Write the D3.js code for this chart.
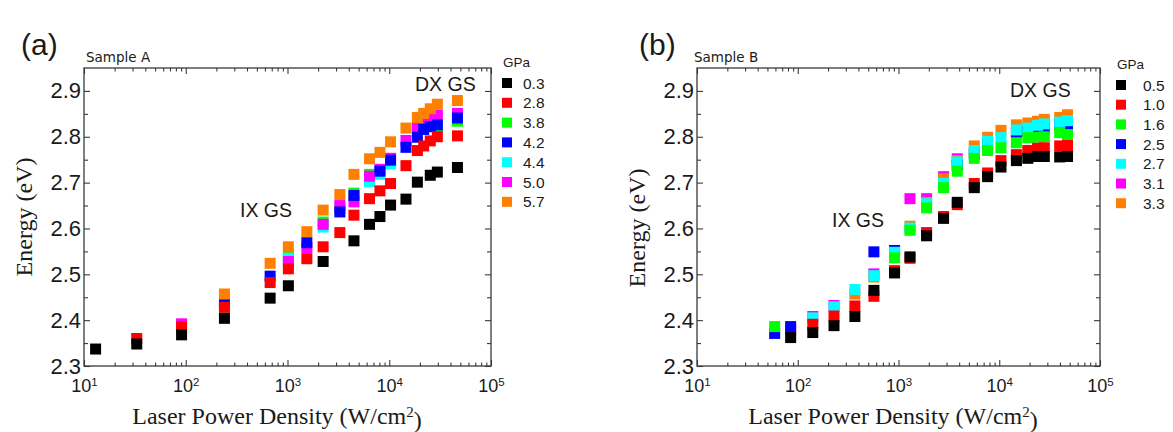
<!DOCTYPE html>
<html>
<head>
<meta charset="utf-8">
<script src="https://cdn.jsdelivr.net/npm/d3@7"></script>
<style>
  body { margin: 0; background: #fff; }
  svg { display: block; }
</style>
</head>
<body>
<svg id="chart" width="1173" height="432"></svg>
<script>
// Axis ticks shared by both panels
const xDecades = [1e1, 1e2, 1e3, 1e4, 1e5];
const yTicks = [2.3, 2.4, 2.5, 2.6, 2.7, 2.8, 2.9];
const yMinorTicks = [2.35, 2.45, 2.55, 2.65, 2.75, 2.85];

// Sample A: laser power density (W/cm2) and peak energy (eV) per pressure
const gpaA = ["0.3", "2.8", "3.8", "4.2", "4.4", "5.0", "5.7"];
const powerA = [13, 33, 91, 240, 675, 1020, 1550, 2240, 3270, 4500, 6400, 8100, 10300, 14600, 18900, 21800, 25300, 29700, 46800];
const a03 = [2.337, 2.348, 2.368, 2.404, 2.448, 2.475, null, 2.528, null, 2.573, 2.609, 2.626, 2.651, 2.664, 2.701, null, 2.716, 2.723, 2.733];
const a28 = [null, 2.360, 2.385, 2.428, 2.482, 2.512, 2.534, 2.560, 2.591, 2.629, 2.665, 2.682, 2.698, 2.737, 2.770, 2.780, 2.791, 2.800, 2.802];
const a38 = [null, null, null, null, null, 2.540, null, 2.614, 2.644, 2.677, 2.718, null, null, null, null, null, null, 2.818, 2.834];
const a42 = [null, null, null, 2.436, 2.496, null, 2.569, null, 2.636, 2.672, null, 2.725, 2.749, 2.777, 2.799, 2.816, 2.822, 2.826, 2.841];
const a44 = [null, null, null, null, null, 2.535, null, 2.603, null, null, 2.702, 2.718, 2.741, null, null, null, null, null, null];
const a50 = [null, null, 2.392, null, null, 2.528, 2.558, 2.609, 2.650, 2.658, 2.714, 2.729, 2.753, 2.792, 2.820, 2.830, 2.841, 2.847, 2.851];
const a57 = [null, null, null, 2.457, 2.524, 2.560, 2.593, 2.640, 2.674, 2.718, 2.752, 2.766, 2.789, 2.819, 2.842, 2.851, 2.861, 2.871, 2.879];

// Sample B
const gpaB = ["0.5", "1.0", "1.6", "2.5", "2.7", "3.1", "3.3"];
const powerB = [59, 85, 141, 229, 369, 570, 914, 1300, 1900, 2800, 3830, 5650, 7660, 10400, 14800, 19200, 24000, 28000, 39800, 47600];
const b05 = [null, 2.362, 2.373, 2.388, 2.408, 2.465, 2.503, 2.538, 2.584, 2.622, 2.657, 2.689, 2.713, 2.734, 2.748, 2.753, 2.757, 2.757, 2.756, 2.757];
const b10 = [null, null, 2.391, 2.409, 2.431, 2.452, 2.508, 2.535, 2.591, 2.626, 2.652, 2.698, 2.721, 2.748, 2.761, 2.770, 2.775, 2.776, 2.780, 2.781];
const b16 = [2.386, null, null, null, null, null, 2.536, 2.596, 2.645, 2.689, 2.725, 2.753, 2.770, 2.776, 2.787, 2.798, 2.799, 2.800, 2.809, 2.805];
const b25 = [2.371, 2.386, null, null, null, 2.549, 2.552, null, null, null, 2.738, 2.763, 2.783, null, 2.809, 2.812, 2.816, 2.819, 2.826, 2.827];
const b27 = [null, null, 2.405, 2.429, 2.467, 2.497, 2.548, 2.601, 2.654, 2.698, 2.745, 2.770, 2.790, 2.798, 2.815, 2.819, 2.825, 2.828, 2.832, 2.835];
const b31 = [null, 2.380, 2.408, 2.432, null, 2.501, null, 2.665, 2.665, 2.713, 2.752, null, null, null, null, null, null, null, null, null];
const b33 = [null, null, null, null, 2.457, 2.494, null, 2.605, 2.657, 2.708, 2.748, 2.780, 2.799, 2.814, 2.826, 2.830, 2.834, 2.838, 2.842, 2.848];

const colors = ["#000000", "#ff0000", "#00ff00", "#0000ff", "#00ffff", "#ff00ff", "#ff8000"];

const svg = d3.select("#chart");
const tickColor = "#3a3a3a";
const sans = "'Liberation Sans', Arial, sans-serif";
const serif = "'Liberation Serif', 'Times New Roman', serif";

function drawPanel(p) {
  const x = d3.scaleLog().domain([10, 1e5]).range([p.left, p.right]);
  const y = d3.scaleLinear().domain([2.3, 2.95]).range([p.bottom, p.top]);
  const g = svg.append("g");

  const xMinor = [];
  xDecades.slice(0, -1).forEach(d => { for (let m = 2; m <= 9; m++) xMinor.push(d * m); });

  function styleAxis(a) {
    a.select(".domain").remove();
    a.selectAll(".tick line").attr("stroke", tickColor).attr("stroke-width", 1.1);
  }

  // minor ticks on all four sides
  g.append("g").attr("transform", `translate(0,${p.bottom})`)
    .call(d3.axisBottom(x).tickValues(xMinor).tickSize(-3.5).tickFormat("")).call(styleAxis);
  g.append("g").attr("transform", `translate(0,${p.top})`)
    .call(d3.axisTop(x).tickValues(xMinor).tickSize(-3.5).tickFormat("")).call(styleAxis);
  g.append("g").attr("transform", `translate(${p.left},0)`)
    .call(d3.axisLeft(y).tickValues(yMinorTicks).tickSize(-4).tickFormat("")).call(styleAxis);
  g.append("g").attr("transform", `translate(${p.right},0)`)
    .call(d3.axisRight(y).tickValues(yMinorTicks).tickSize(-4).tickFormat("")).call(styleAxis);

  // major ticks
  const xAxis = g.append("g").attr("transform", `translate(0,${p.bottom})`)
    .call(d3.axisBottom(x).tickValues(xDecades).tickSize(-6).tickPadding(13))
    .call(styleAxis)
    .attr("font-family", sans).attr("font-size", 18);
  xAxis.selectAll(".tick text").attr("fill", "#1a1a1a").each(function(d) {
    const t = d3.select(this).text("");
    t.append("tspan").text("10");
    t.append("tspan").attr("dy", "-0.5em").attr("font-size", 11.5).text(Math.round(Math.log10(d)));
  });
  g.append("g").attr("transform", `translate(0,${p.top})`)
    .call(d3.axisTop(x).tickValues(xDecades).tickSize(-6).tickFormat("")).call(styleAxis);
  g.append("g").attr("transform", `translate(${p.left},0)`)
    .call(d3.axisLeft(y).tickValues(yTicks).tickSize(-6).tickPadding(3).tickFormat(d3.format(".1f")))
    .call(styleAxis)
    .attr("font-family", sans).attr("font-size", 22)
    .selectAll(".tick text").attr("fill", "#1a1a1a");
  g.append("g").attr("transform", `translate(${p.right},0)`)
    .call(d3.axisRight(y).tickValues(yTicks).tickSize(-6).tickFormat("")).call(styleAxis);

  // frame
  g.append("rect")
    .attr("x", p.left).attr("y", p.top)
    .attr("width", p.right - p.left).attr("height", p.bottom - p.top)
    .attr("fill", "none").attr("stroke", tickColor).attr("stroke-width", 1.3);

  // square markers, drawn series by series in the given order
  const size = 11;
  p.order.forEach(i => {
    const pts = p.power.map((v, j) => ({ x: v, e: p.series[i][j] })).filter(d => d.e !== null);
    g.append("g").selectAll("rect")
      .data(pts)
      .join("rect")
      .attr("x", d => x(d.x) - size / 2)
      .attr("y", d => y(d.e) - size / 2)
      .attr("width", size).attr("height", size)
      .attr("fill", colors[i]);
  });

  // annotations
  g.append("text").attr("x", p.sampleX).attr("y", 62)
    .attr("font-family", "'DejaVu Sans', sans-serif").attr("font-size", 13.5).attr("fill", "#1a1a1a")
    .text(p.sample);
  g.append("text").attr("x", p.ixX).attr("y", p.ixY)
    .attr("font-family", sans).attr("font-size", 19.5).attr("fill", "#1a1a1a").text("IX GS");
  g.append("text").attr("x", p.dxX).attr("y", p.dxY)
    .attr("font-family", sans).attr("font-size", 19.5).attr("fill", "#1a1a1a").text("DX GS");
  g.append("text").attr("x", p.tagX).attr("y", 55)
    .attr("font-family", sans).attr("font-size", 30).attr("fill", "#1a1a1a").text(p.tag);

  // axis titles
  const xt = g.append("text").attr("x", p.xTitleX).attr("y", 424)
    .attr("text-anchor", "middle").attr("font-family", serif).attr("font-size", 24).attr("fill", "#1a1a1a");
  xt.append("tspan").text("Laser Power Density (W/cm");
  xt.append("tspan").attr("dy", "-0.45em").attr("font-size", 15).text("2");
  xt.append("tspan").attr("dy", "0.45em").text(")");
  g.append("text")
    .attr("transform", `translate(${p.yTitleX},${p.yTitleY}) rotate(-90)`)
    .attr("text-anchor", "middle").attr("font-family", serif).attr("font-size", 24).attr("fill", "#1a1a1a")
    .text("Energy (eV)");

  // legend
  const lg = g.append("g");
  lg.append("text").attr("x", p.legX - 4).attr("y", p.legY - 16)
    .attr("font-family", sans).attr("font-size", 13.5).attr("fill", "#1a1a1a").text("GPa");
  p.labels.forEach((lab, i) => {
    const cy = p.legY + i * p.legStep;
    lg.append("rect").attr("x", p.legX - 5).attr("y", cy - 5).attr("width", 10).attr("height", 10).attr("fill", colors[i]);
    lg.append("text").attr("x", p.legTextX).attr("y", cy).attr("dy", "0.36em")
      .attr("font-family", sans).attr("font-size", 15.5).attr("fill", "#1a1a1a").text(lab);
  });
}

drawPanel({
  left: 84, right: 491, top: 68, bottom: 366,
  power: powerA, series: [a03, a28, a38, a42, a44, a50, a57], labels: gpaA,
  order: [2, 4, 5, 3, 6, 1, 0],
  sample: "Sample A", sampleX: 86, tag: "(a)", tagX: 21,
  ixX: 240, ixY: 217, dxX: 415, dxY: 90.5,
  xTitleX: 277, yTitleX: 32, yTitleY: 217,
  legX: 507, legY: 83, legStep: 19.8, legTextX: 523
});

drawPanel({
  left: 697, right: 1100, top: 68, bottom: 366,
  power: powerB, series: [b05, b10, b16, b25, b27, b31, b33], labels: gpaB,
  order: [5, 6, 3, 4, 2, 1, 0],
  sample: "Sample B", sampleX: 694, tag: "(b)", tagX: 639,
  ixX: 832, ixY: 226.5, dxX: 1010, dxY: 97,
  xTitleX: 893, yTitleX: 645, yTitleY: 228,
  legX: 1121, legY: 85, legStep: 19.7, legTextX: 1143
});
</script>
</body>
</html>
